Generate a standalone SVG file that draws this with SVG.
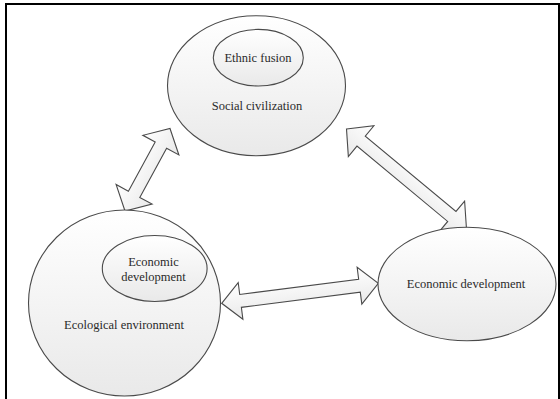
<svg xmlns="http://www.w3.org/2000/svg" width="560" height="399" viewBox="0 0 560 399">
  <defs>
    <linearGradient id="g" x1="0" y1="0" x2="0" y2="1">
      <stop offset="0" stop-color="#ffffff"/>
      <stop offset="1" stop-color="#e9e9e9"/>
    </linearGradient>
    <style>
      .shape { fill: url(#g); stroke: #4a4a4a; stroke-width: 1.1; }
      .lbl { font-family: "Liberation Serif", "Times New Roman", serif; font-size: 12.5px; fill: #2a2a2a; text-anchor: middle; }
    </style>
  </defs>
  <rect width="560" height="399" fill="#ffffff"/>
  <path d="M6,400 V4 H559 V400" fill="none" stroke="#000000" stroke-width="2"/>

  <g id="connectors">
    <polygon class="shape" transform="translate(125,211) rotate(-61.4)" points="0,0 19,-20.5 19,-6.5 75,-6.5 75,-20.5 94,0 75,20.5 75,6.5 19,6.5 19,20.5"/>
    <polygon class="shape" transform="translate(346.5,129) rotate(39.7)" points="0,0 19,-20 19,-6.5 136.9,-6.5 136.9,-20 155.9,0 136.9,20 136.9,6.5 19,6.5 19,20"/>
    <polygon class="shape" transform="translate(221.7,303.3) rotate(-7.28)" points="0,0 19,-18.5 19,-6.5 138.9,-6.5 138.9,-18.5 157.9,0 138.9,18.5 138.9,6.5 19,6.5 19,18.5"/>
  </g>

  <g id="social-civilization">
    <ellipse class="shape" cx="256.5" cy="85.7" rx="89" ry="70"/>
    <text class="lbl" x="257" y="110">Social civilization</text>
  </g>
  <g id="ethnic-fusion">
    <ellipse class="shape" cx="258.3" cy="57.7" rx="45" ry="28.3"/>
    <text class="lbl" x="258" y="61.5">Ethnic fusion</text>
  </g>

  <g id="ecological-environment">
    <ellipse class="shape" cx="124.5" cy="303" rx="96" ry="93"/>
    <text class="lbl" x="124" y="329">Ecological environment</text>
  </g>
  <g id="economic-development-inner">
    <ellipse class="shape" cx="154.7" cy="268.5" rx="52.4" ry="33"/>
    <text class="lbl" x="153.5" y="265.5">Economic</text>
    <text class="lbl" x="153.5" y="280.5">development</text>
  </g>

  <g id="economic-development">
    <ellipse class="shape" cx="467" cy="284" rx="89" ry="56.7"/>
    <text class="lbl" x="466" y="288">Economic development</text>
  </g>
</svg>
